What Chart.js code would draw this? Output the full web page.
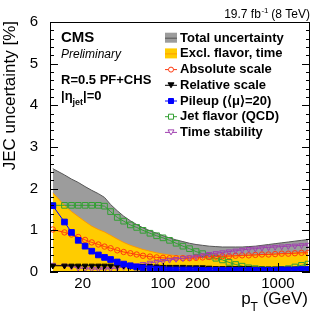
<!DOCTYPE html>
<html>
<head>
<meta charset="utf-8">
<script src="https://cdn.jsdelivr.net/npm/chart.js@4.4.1/dist/chart.umd.min.js"></script>
<style>
html, body { margin: 0; padding: 0; background: #fff; }
canvas { display: block; }
</style>
</head>
<body>
<canvas id="jecchart" width="327" height="314"></canvas>
<script>
// jet pT points (GeV)
var ptValues = [11, 13.9, 16, 18.3, 21, 24, 27.4, 31, 35, 40, 45.5, 52, 59, 67, 77, 88,
    100, 114, 130, 149, 170, 194, 221, 252, 288, 329, 375, 428, 488, 557, 636, 726,
    828, 945, 1078, 1230, 1404, 1602, 1828];

// uncertainties in %
var totalUnc = [2.48, 2.33, 2.23, 2.15, 2.05, 1.96, 1.88, 1.79, 1.62, 1.47, 1.34, 1.23, 1.14, 1.06, 0.99, 0.93,
    0.87, 0.82, 0.77, 0.73, 0.69, 0.66, 0.64, 0.62, 0.61, 0.60, 0.60, 0.60, 0.60, 0.61, 0.62, 0.64,
    0.66, 0.68, 0.70, 0.72, 0.74, 0.76, 0.78];
var exclUnc = [1.90, 1.60, 1.45, 1.33, 1.21, 1.10, 1.02, 0.96, 0.88, 0.79, 0.71, 0.64, 0.59, 0.54, 0.50, 0.46,
    0.43, 0.41, 0.39, 0.38, 0.37, 0.37, 0.37, 0.37, 0.38, 0.38, 0.39, 0.39, 0.40, 0.41, 0.41, 0.42,
    0.43, 0.43, 0.44, 0.45, 0.46, 0.47, 0.48];
var absScale = [1.02, 0.95, 0.90, 0.84, 0.77, 0.71, 0.66, 0.61, 0.57, 0.52, 0.48, 0.45, 0.42, 0.39, 0.37, 0.35,
    0.34, 0.33, 0.33, 0.33, 0.33, 0.34, 0.35, 0.36, 0.37, 0.38, 0.38, 0.39, 0.40, 0.40, 0.41, 0.42,
    0.42, 0.43, 0.44, 0.44, 0.45, 0.46, 0.46];
var relScale = [0.15, 0.15, 0.15, 0.15, 0.15, 0.15, 0.15, 0.15, 0.15, 0.15, 0.15, 0.14, 0.14, 0.14, 0.14, 0.13,
    0.12, 0.12, 0.12, 0.12, 0.11, 0.11, 0.11, 0.10, 0.09, 0.09, 0.09, 0.09, 0.09, 0.09, 0.08, 0.08,
    0.08, 0.08, 0.08, 0.08, 0.08, 0.08, 0.08];
var pileup = [1.59, 1.20, 0.95, 0.76, 0.62, 0.50, 0.41, 0.35, 0.30, 0.24, 0.19, 0.15, 0.12, 0.10, 0.08, 0.07,
    0.06, 0.05, 0.05, 0.05, 0.05, 0.05, 0.04, 0.04, 0.04, 0.04, 0.04, 0.04, 0.04, 0.04, 0.04, 0.04,
    0.04, 0.04, 0.05, 0.05, 0.05, 0.06, 0.06];
var jetFlavor = [1.60, 1.60, 1.60, 1.60, 1.60, 1.60, 1.60, 1.58, 1.45, 1.31, 1.22, 1.13, 1.07, 1.00, 0.93, 0.87,
    0.82, 0.76, 0.69, 0.62, 0.56, 0.49, 0.44, 0.38, 0.33, 0.29, 0.23, 0.18, 0.14, 0.10, 0.08, 0.06,
    0.05, 0.05, 0.06, 0.08, 0.12, 0.16, 0.19];
var timeStab = [0.17, 0.15, 0.13, 0.10, 0.08, 0.07, 0.07, 0.07, 0.08, 0.10, 0.12, 0.14, 0.16, 0.19, 0.22, 0.24,
    0.26, 0.29, 0.31, 0.33, 0.35, 0.37, 0.40, 0.43, 0.45, 0.47, 0.49, 0.51, 0.53, 0.55, 0.56, 0.58,
    0.59, 0.60, 0.61, 0.62, 0.63, 0.64, 0.65];

var xTickLabels = [20, 100, 200, 1000];
var xMinorTicks = [20, 30, 40, 50, 60, 70, 80, 90, 200, 300, 400, 500, 600, 700, 800, 900];
var xMajorTicks = [100, 1000];

var FONT = "'Liberation Sans', Arial, Helvetica, sans-serif";

function pts(vals) {
    return ptValues.map(function (p, i) { return { x: p, y: vals[i] }; });
}

function markerSet(vals, color, style, filled, radius, rotation, order) {
    return {
        data: pts(vals),
        borderColor: color,
        borderWidth: 1,
        pointStyle: style,
        pointRadius: radius,
        pointRotation: rotation,
        pointBorderColor: color,
        pointBorderWidth: 1,
        pointBackgroundColor: filled ? color : 'rgba(0,0,0,0)',
        fill: false,
        order: order
    };
}

var GRAY = '#9c9c9c', YELLOW = '#ffcc00', RED = '#ff3a10', BLUE = '#0000ff', GREEN = '#33a033', PURPLE = '#a040b0';

// ROOT-like frame, ticks and texts
var rootDecor = {
    id: 'rootDecor',
    afterDraw: function (chart) {
        var ctx = chart.ctx, a = chart.chartArea, xs = chart.scales.x, ys = chart.scales.y;
        ctx.save();
        ctx.strokeStyle = '#000';
        ctx.lineWidth = 1;
        ctx.strokeRect(a.left + 0.5, a.top + 0.5, a.right - a.left - 1, a.bottom - a.top - 1);

        ctx.beginPath();
        for (var i = 0; i <= 30; i++) {
            var v = i / 5;
            var py = Math.round(ys.getPixelForValue(v)) + 0.5;
            var len = (i % 5 === 0) ? 8 : 4;
            ctx.moveTo(a.left, py); ctx.lineTo(a.left + len, py);
            ctx.moveTo(a.right, py); ctx.lineTo(a.right - len, py);
        }
        xMinorTicks.forEach(function (t) {
            var px = Math.round(xs.getPixelForValue(t)) + 0.5;
            ctx.moveTo(px, a.bottom); ctx.lineTo(px, a.bottom - 4);
        });
        xMajorTicks.forEach(function (t) {
            var px = Math.round(xs.getPixelForValue(t)) + 0.5;
            ctx.moveTo(px, a.bottom); ctx.lineTo(px, a.bottom - 9);
        });
        ctx.stroke();

        ctx.fillStyle = '#000';
        ctx.textBaseline = 'alphabetic';

        // lumi label
        ctx.font = '12px ' + FONT;
        var t1 = '19.7 fb', t3 = ' (8 TeV)';
        var w1 = ctx.measureText(t1).width, w3 = ctx.measureText(t3).width;
        ctx.font = '8px ' + FONT;
        var w2 = ctx.measureText('-1').width;
        var x0 = a.right - (w1 + w2 + w3);
        ctx.font = '12px ' + FONT;
        ctx.fillText(t1, x0, 18);
        ctx.fillText(t3, x0 + w1 + w2, 18);
        ctx.font = '8px ' + FONT;
        ctx.fillText('-1', x0 + w1 + 0.5, 13);

        // y title
        ctx.save();
        ctx.translate(15, a.top - 1);
        ctx.rotate(-Math.PI / 2);
        ctx.textAlign = 'right';
        ctx.font = '17px ' + FONT;
        ctx.fillText('JEC uncertainty [%]', 0, 0);
        ctx.restore();

        // x title
        ctx.font = '17px ' + FONT;
        ctx.textAlign = 'right';
        ctx.fillText('(GeV)', 308, 304);
        var wg = ctx.measureText(' (GeV)').width;
        ctx.font = '12px ' + FONT;
        var wt = ctx.measureText('T').width;
        ctx.fillText('T', 308 - wg, 311);
        ctx.font = '17px ' + FONT;
        ctx.fillText('p', 308 - wg - wt, 304);
        ctx.textAlign = 'left';

        // CMS labels
        ctx.textBaseline = 'middle';
        ctx.font = 'bold 15px ' + FONT;
        ctx.fillText('CMS', 61, 38);
        ctx.font = 'italic 12px ' + FONT;
        ctx.fillText('Preliminary', 61, 54.5);
        ctx.font = 'bold 13px ' + FONT;
        ctx.fillText('R=0.5 PF+CHS', 61, 80);
        var ex = 61;
        ctx.fillText('|\u03b7', ex, 96.5);
        ex += ctx.measureText('|\u03b7').width;
        ctx.font = 'bold 9px ' + FONT;
        ctx.fillText('jet', ex, 103);
        ex += ctx.measureText('jet').width;
        ctx.font = 'bold 13px ' + FONT;
        ctx.fillText('|=0', ex, 96.5);

        // legend
        var rows = [
            { label: 'Total uncertainty', kind: 'box', fillc: GRAY, line: '#555' },
            { label: 'Excl. flavor, time', kind: 'box', fillc: YELLOW, line: '#ff9900' },
            { label: 'Absolute scale', kind: 'mk', color: RED, shape: 'circle', filled: false },
            { label: 'Relative scale', kind: 'mk', color: '#000', shape: 'tri', filled: true },
            { label: 'Pileup (\u27e8\u03bc\u27e9=20)', kind: 'mk', color: BLUE, shape: 'sq', filled: true },
            { label: 'Jet flavor (QCD)', kind: 'mk', color: GREEN, shape: 'sq', filled: false },
            { label: 'Time stability', kind: 'mk', color: PURPLE, shape: 'tri', filled: false }
        ];
        rows.forEach(function (r, i) {
            var cy = 37.7 + i * 15.7;
            var lx = 165, rx = 177, mx = 171;
            if (r.kind === 'box') {
                ctx.fillStyle = r.fillc;
                ctx.fillRect(lx, cy - 5, rx - lx, 10);
                ctx.strokeStyle = r.line;
                ctx.beginPath(); ctx.moveTo(lx, cy + 0.5); ctx.lineTo(rx, cy + 0.5); ctx.stroke();
            } else {
                ctx.strokeStyle = r.color;
                ctx.fillStyle = r.color;
                ctx.beginPath(); ctx.moveTo(lx, cy + 0.5); ctx.lineTo(rx, cy + 0.5); ctx.stroke();
                ctx.beginPath();
                if (r.shape === 'circle') {
                    ctx.fillStyle = '#fff';
                    ctx.arc(mx, cy + 0.5, 2.5, 0, Math.PI * 2);
                } else if (r.shape === 'sq') {
                    ctx.rect(mx - 2.5, cy - 2, 5, 5);
                    if (!r.filled) { ctx.fillStyle = '#fff'; }
                } else {
                    ctx.moveTo(mx - 3, cy - 2); ctx.lineTo(mx + 3, cy - 2); ctx.lineTo(mx, cy + 3); ctx.closePath();
                    if (!r.filled) { ctx.fillStyle = '#fff'; }
                }
                ctx.fill();
                ctx.stroke();
            }
            ctx.fillStyle = '#000';
            ctx.font = 'bold 13px ' + FONT;
            ctx.fillText(r.label, 180, cy + 0.5);
        });
        ctx.restore();
    }
};

var chart = new Chart(document.getElementById('jecchart'), {
    type: 'line',
    data: {
        datasets: [
            { data: pts(totalUnc), fill: 'origin', backgroundColor: GRAY, borderColor: '#555', borderWidth: 1, pointRadius: 0, order: 10 },
            { data: pts(exclUnc), fill: 'origin', backgroundColor: YELLOW, borderColor: '#ff9900', borderWidth: 1, pointRadius: 0, order: 9 },
            markerSet(jetFlavor, GREEN, 'rect', false, 4, 0, 6),
            markerSet(absScale, RED, 'circle', false, 2.7, 0, 5),
            markerSet(timeStab, PURPLE, 'triangle', false, 3.2, 180, 4),
            markerSet(relScale, '#000', 'triangle', true, 3.2, 180, 3),
            markerSet(pileup, BLUE, 'rect', true, 4, 0, 1)
        ]
    },
    options: {
        responsive: false,
        devicePixelRatio: 1,
        animation: false,
        layout: { padding: { left: 0, right: 17, top: 22, bottom: 0 } },
        plugins: { legend: { display: false }, tooltip: { enabled: false } },
        scales: {
            x: {
                type: 'logarithmic',
                min: 10.4,
                max: 1900,
                grid: { display: false },
                border: { display: false },
                afterFit: function (s) { s.height = 42; },
                ticks: {
                    autoSkip: false,
                    maxRotation: 0,
                    padding: -5,
                    color: '#000',
                    font: { family: FONT, size: 15 },
                    callback: function (v) { return xTickLabels.indexOf(v) >= 0 ? String(v) : ''; }
                }
            },
            y: {
                min: 0,
                max: 6,
                grid: { display: false },
                border: { display: false },
                afterFit: function (s) { s.width = 50; },
                ticks: {
                    stepSize: 1,
                    padding: 4,
                    color: '#000',
                    font: { family: FONT, size: 15 }
                }
            }
        }
    },
    plugins: [rootDecor]
});
</script>
</body>
</html>
